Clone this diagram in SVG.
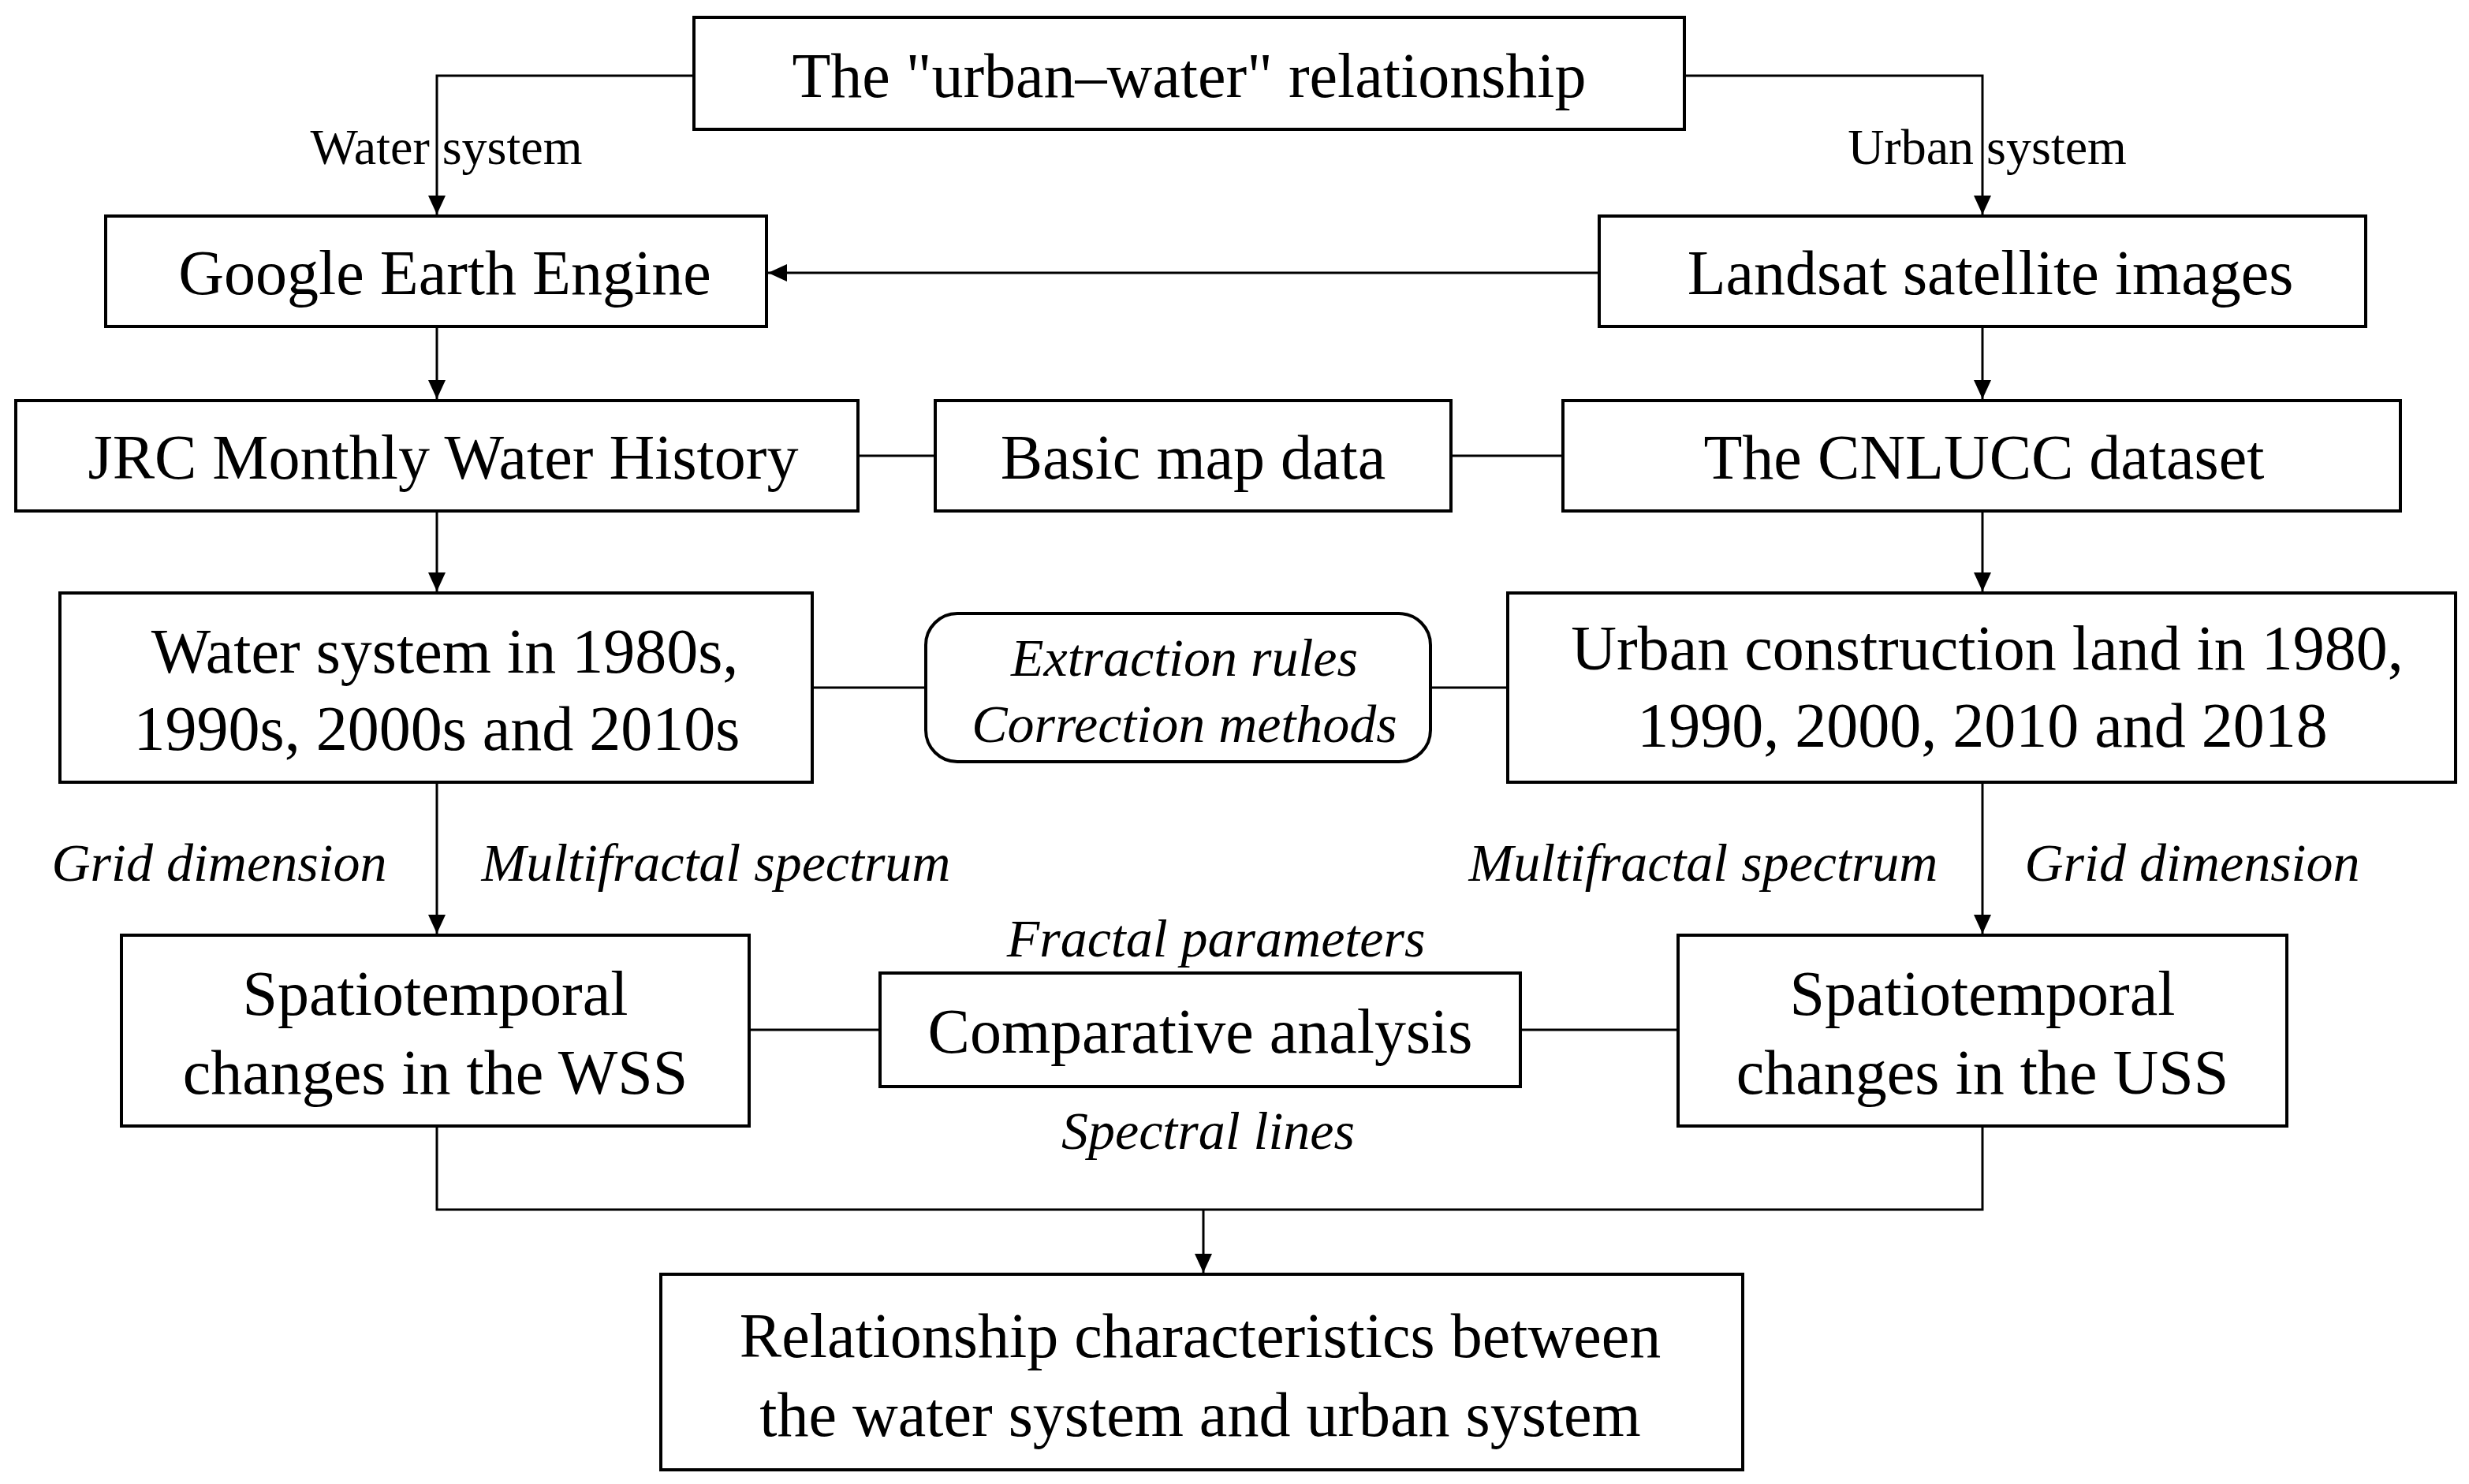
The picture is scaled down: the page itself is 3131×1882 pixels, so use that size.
<svg xmlns="http://www.w3.org/2000/svg" width="3131" height="1882" viewBox="0 0 3131 1882">
<style>
.b{fill:#fff;stroke:#000;stroke-width:4}
.t{font-family:"Liberation Serif",serif;font-size:80px;text-anchor:middle;dominant-baseline:central;fill:#000}
.s{font-family:"Liberation Serif",serif;font-size:64px;text-anchor:middle;dominant-baseline:central;fill:#000}
.i{font-family:"Liberation Serif",serif;font-size:68px;font-style:italic;text-anchor:middle;dominant-baseline:central;fill:#000}
.c{fill:none;stroke:#000;stroke-width:3}
</style>
<defs><marker id="a" markerUnits="userSpaceOnUse" markerWidth="24" markerHeight="30" refX="24" refY="11" orient="auto" viewBox="0 0 24 22"><path d="M0,0 L24,11 L0,22 Z" fill="#000"/></marker></defs>
<rect width="3131" height="1882" fill="#fff"/>
<g id="connectors">
<path class="c" d="M880,96 H554 V272" marker-end="url(#a)"/>
<path class="c" d="M2136,96 H2514 V272" marker-end="url(#a)"/>
<path class="c" d="M2028,346 H974" marker-end="url(#a)"/>
<path class="c" d="M554,414 V506" marker-end="url(#a)"/>
<path class="c" d="M2514,414 V506" marker-end="url(#a)"/>
<path class="c" d="M1088,578 H1186 M1840,578 H1982"/>
<path class="c" d="M554,648 V750" marker-end="url(#a)"/>
<path class="c" d="M2514,648 V750" marker-end="url(#a)"/>
<path class="c" d="M1030,872 H1174 M1814,872 H1912"/>
<path class="c" d="M554,992 V1184" marker-end="url(#a)"/>
<path class="c" d="M2514,992 V1184" marker-end="url(#a)"/>
<path class="c" d="M950,1306 H1116 M1928,1306 H2128"/>
<path class="c" d="M554,1428 V1534 H2514 V1428 M1526,1534 V1614" marker-end="url(#a)"/>
</g>
<g id="n1"><rect class="b" x="880" y="22" width="1256" height="142"/><text class="t" x="1508" y="96">The "urban–water" relationship</text></g>
<g id="n2"><rect class="b" x="134" y="274" width="838" height="140"/><text class="t" x="564" y="346">Google Earth Engine</text></g>
<g id="n3"><rect class="b" x="2028" y="274" width="972" height="140"/><text class="t" x="2524" y="346">Landsat satellite images</text></g>
<g id="n4"><rect class="b" x="20" y="508" width="1068" height="140"/><text class="t" x="562" y="580">JRC Monthly Water History</text></g>
<g id="n5"><rect class="b" x="1186" y="508" width="654" height="140"/><text class="t" x="1513" y="580">Basic map data</text></g>
<g id="n6"><rect class="b" x="1982" y="508" width="1062" height="140"/><text class="t" x="2516" y="580">The CNLUCC dataset</text></g>
<g id="n7"><rect class="b" x="76" y="752" width="954" height="240"/><text class="t" x="564" y="826">Water system in  1980s,</text><text class="t" x="554" y="924">1990s, 2000s and 2010s</text></g>
<g id="n8"><rect class="b" x="1174" y="778" width="640" height="188" rx="40"/><text class="i" x="1502" y="834">Extraction rules</text><text class="i" x="1502" y="918">Correction methods</text></g>
<g id="n9"><rect class="b" x="1912" y="752" width="1202" height="240"/><text class="t" x="2520" y="822">Urban construction land in 1980,</text><text class="t" x="2514" y="920">1990, 2000, 2010 and 2018</text></g>
<g id="n10"><rect class="b" x="154" y="1186" width="796" height="242"/><text class="t" x="552" y="1260">Spatiotemporal</text><text class="t" x="552" y="1360">changes in the WSS</text></g>
<g id="n11"><rect class="b" x="1116" y="1234" width="812" height="144"/><text class="t" x="1522" y="1308">Comparative analysis</text></g>
<g id="n12"><rect class="b" x="2128" y="1186" width="772" height="242"/><text class="t" x="2514" y="1260">Spatiotemporal</text><text class="t" x="2514" y="1360">changes in the USS</text></g>
<g id="n13"><rect class="b" x="838" y="1616" width="1372" height="248"/><text class="t" x="1522" y="1694">Relationship characteristics between</text><text class="t" x="1522" y="1794">the water system and urban system</text></g>
<g id="labels">
<text class="s" x="566" y="186">Water  system</text>
<text class="s" x="2520" y="186">Urban  system</text>
<text class="i" x="278" y="1094">Grid dimension</text>
<text class="i" x="908" y="1094">Multifractal spectrum</text>
<text class="i" x="2160" y="1094">Multifractal spectrum</text>
<text class="i" x="2780" y="1094">Grid dimension</text>
<text class="i" x="1542" y="1190">Fractal parameters</text>
<text class="i" x="1532" y="1434">Spectral lines</text>
</g>
</svg>
